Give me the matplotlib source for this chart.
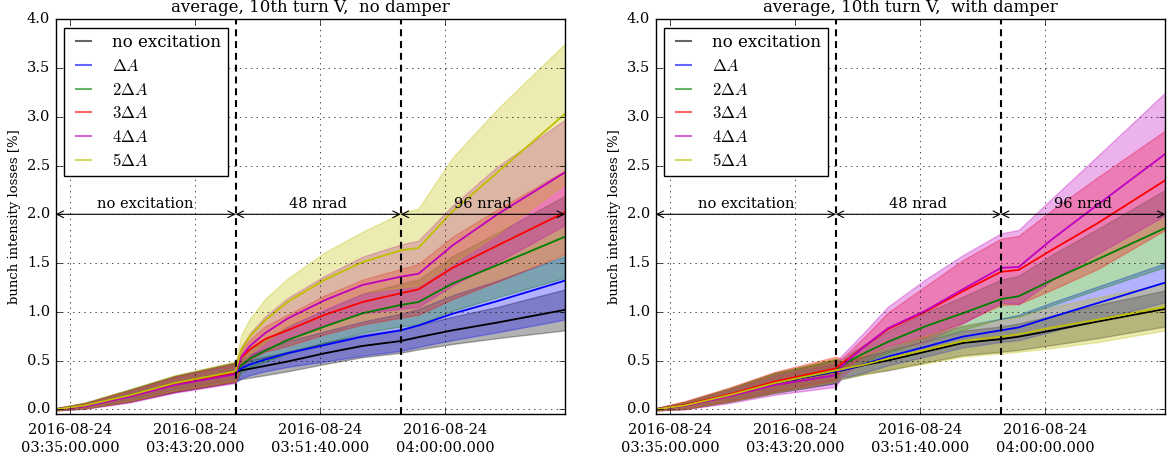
import datetime as dt
import matplotlib
matplotlib.use("Agg")
import matplotlib.pyplot as plt
import matplotlib.dates as mdates
from matplotlib.lines import Line2D

plt.style.use("classic")
plt.rcParams.update({
    "font.family": "serif",
    "font.serif": ["DejaVu Serif"],
    "mathtext.fontset": "cm",
    "figure.facecolor": "white",
    "savefig.facecolor": "white",
    "axes.formatter.useoffset": False,
})

# ---------------------------------------------------------------- data
DAY = "2016-08-24"
times = ["03:34:03", "03:36:00", "03:39:00", "03:42:00", "03:46:03", "03:46:25",
         "03:47:00", "03:48:00", "03:49:30", "03:52:00", "03:54:30", "03:57:03",
         "03:58:14", "04:00:30", "04:03:30", "04:08:00"]
t_start, t_end = "03:34:03", "04:08:00"
t_48nrad, t_96nrad = "03:46:03", "03:57:03"
tick_times = ["03:35:00", "03:43:20", "03:51:40", "04:00:00"]
y_ticks = [0.0, 0.5, 1.0, 1.5, 2.0, 2.5, 3.0, 3.5, 4.0]

labels = ["no excitation", r"$\Delta A$", r"$2\Delta A$", r"$3\Delta A$",
          r"$4\Delta A$", r"$5\Delta A$"]
colors = ["k", "b", "g", "r", "m", "y"]
titles = ["average, 10th turn V,  no damper", "average, 10th turn V,  with damper"]
phase_labels = ["no excitation", "48 nrad", "96 nrad"]

# no damper: mean losses and spread per excitation amplitude
nd_black      = [0.00, 0.035, 0.14, 0.26, 0.38, 0.40, 0.415, 0.445, 0.49, 0.575, 0.65, 0.70, 0.74, 0.81, 0.89, 1.02]
nd_black_lo   = [-0.01, 0.01, 0.08, 0.18, 0.29, 0.31, 0.325, 0.35, 0.39, 0.465, 0.535, 0.58, 0.615, 0.67, 0.73, 0.81]
nd_black_hi   = [0.01, 0.065, 0.20, 0.34, 0.47, 0.49, 0.505, 0.54, 0.59, 0.685, 0.765, 0.82, 0.865, 0.95, 1.05, 1.23]
nd_blue       = [0.00, 0.035, 0.14, 0.26, 0.38, 0.42, 0.46, 0.51, 0.575, 0.66, 0.745, 0.81, 0.86, 0.98, 1.11, 1.32]
nd_blue_lo    = [-0.01, 0.01, 0.08, 0.18, 0.28, 0.32, 0.35, 0.39, 0.435, 0.49, 0.55, 0.60, 0.64, 0.71, 0.79, 0.92]
nd_blue_hi    = [0.01, 0.065, 0.20, 0.34, 0.48, 0.51, 0.56, 0.62, 0.70, 0.80, 0.90, 0.98, 1.03, 1.17, 1.32, 1.57]
nd_green      = [0.00, 0.035, 0.145, 0.265, 0.385, 0.45, 0.52, 0.60, 0.71, 0.85, 0.985, 1.07, 1.10, 1.29, 1.48, 1.77]
nd_green_lo   = [-0.01, 0.01, 0.085, 0.185, 0.285, 0.38, 0.43, 0.49, 0.57, 0.68, 0.785, 0.85, 0.87, 1.01, 1.15, 1.35]
nd_green_hi   = [0.01, 0.065, 0.205, 0.345, 0.485, 0.52, 0.61, 0.71, 0.85, 1.02, 1.185, 1.29, 1.33, 1.57, 1.81, 2.19]
nd_red        = [0.00, 0.035, 0.14, 0.26, 0.38, 0.53, 0.615, 0.72, 0.81, 0.97, 1.10, 1.19, 1.23, 1.45, 1.68, 2.02]
nd_red_lo     = [-0.01, 0.01, 0.08, 0.18, 0.28, 0.45, 0.515, 0.59, 0.65, 0.77, 0.87, 0.94, 0.97, 1.13, 1.31, 1.59]
nd_red_hi     = [0.01, 0.065, 0.20, 0.34, 0.48, 0.61, 0.715, 0.85, 0.97, 1.17, 1.33, 1.44, 1.49, 1.77, 2.05, 2.45]
nd_magenta    = [0.00, 0.03, 0.13, 0.25, 0.36, 0.54, 0.65, 0.78, 0.93, 1.12, 1.275, 1.36, 1.39, 1.68, 2.00, 2.43]
nd_magenta_lo = [-0.01, 0.005, 0.07, 0.17, 0.27, 0.44, 0.52, 0.61, 0.72, 0.87, 0.985, 1.03, 1.05, 1.27, 1.51, 1.89]
nd_magenta_hi = [0.01, 0.06, 0.19, 0.33, 0.46, 0.64, 0.78, 0.95, 1.14, 1.37, 1.565, 1.69, 1.73, 2.09, 2.49, 2.97]
nd_yellow     = [0.00, 0.04, 0.145, 0.27, 0.39, 0.61, 0.75, 0.91, 1.10, 1.33, 1.51, 1.63, 1.655, 2.03, 2.43, 3.03]
nd_yellow_lo  = [-0.01, 0.01, 0.085, 0.19, 0.29, 0.46, 0.57, 0.69, 0.86, 1.05, 1.20, 1.25, 1.27, 1.50, 1.80, 2.31]
nd_yellow_hi  = [0.01, 0.07, 0.205, 0.35, 0.49, 0.76, 0.93, 1.13, 1.34, 1.61, 1.82, 2.01, 2.06, 2.58, 3.08, 3.75]

# with damper
wd_black      = [0.00, 0.04, 0.147, 0.27, 0.39, 0.40, 0.42, 0.455, 0.50, 0.59, 0.68, 0.72, 0.745, 0.81, 0.90, 1.03]
wd_black_lo   = [-0.01, 0.005, 0.08, 0.17, 0.27, 0.31, 0.33, 0.365, 0.40, 0.48, 0.555, 0.59, 0.61, 0.66, 0.73, 0.85]
wd_black_hi   = [0.01, 0.075, 0.21, 0.37, 0.51, 0.49, 0.51, 0.545, 0.60, 0.70, 0.805, 0.85, 0.88, 0.96, 1.07, 1.22]
wd_blue       = [0.00, 0.04, 0.147, 0.27, 0.39, 0.40, 0.42, 0.465, 0.54, 0.64, 0.745, 0.81, 0.84, 0.95, 1.09, 1.30]
wd_blue_lo    = [-0.01, 0.005, 0.08, 0.17, 0.27, 0.33, 0.34, 0.38, 0.45, 0.54, 0.635, 0.69, 0.71, 0.80, 0.92, 1.10]
wd_blue_hi    = [0.01, 0.075, 0.21, 0.37, 0.51, 0.47, 0.50, 0.55, 0.63, 0.74, 0.855, 0.93, 0.97, 1.10, 1.26, 1.50]
wd_green      = [0.00, 0.04, 0.15, 0.275, 0.40, 0.44, 0.50, 0.58, 0.69, 0.85, 0.985, 1.13, 1.16, 1.33, 1.54, 1.86]
wd_green_lo   = [-0.01, 0.005, 0.08, 0.175, 0.28, 0.38, 0.43, 0.49, 0.58, 0.71, 0.815, 0.93, 0.95, 1.07, 1.23, 1.46]
wd_green_hi   = [0.01, 0.075, 0.22, 0.375, 0.52, 0.50, 0.57, 0.67, 0.80, 0.99, 1.155, 1.33, 1.37, 1.59, 1.85, 2.25]
wd_red        = [0.00, 0.045, 0.155, 0.285, 0.42, 0.47, 0.53, 0.65, 0.82, 1.00, 1.21, 1.41, 1.43, 1.64, 1.91, 2.35]
wd_red_lo     = [-0.01, 0.005, 0.085, 0.185, 0.30, 0.42, 0.46, 0.55, 0.65, 0.74, 0.89, 1.07, 1.08, 1.23, 1.44, 1.84]
wd_red_hi     = [0.01, 0.085, 0.225, 0.385, 0.54, 0.52, 0.60, 0.75, 0.99, 1.26, 1.53, 1.75, 1.78, 2.05, 2.38, 2.86]
wd_magenta    = [0.00, 0.035, 0.135, 0.25, 0.35, 0.44, 0.52, 0.65, 0.83, 1.01, 1.23, 1.45, 1.46, 1.75, 2.10, 2.62]
wd_magenta_lo = [-0.01, 0.0, 0.065, 0.15, 0.23, 0.33, 0.40, 0.50, 0.61, 0.69, 0.88, 1.095, 1.08, 1.33, 1.60, 1.99]
wd_magenta_hi = [0.01, 0.07, 0.205, 0.35, 0.47, 0.55, 0.64, 0.80, 1.05, 1.33, 1.58, 1.805, 1.84, 2.17, 2.60, 3.25]
wd_yellow     = [0.00, 0.04, 0.147, 0.27, 0.40, 0.41, 0.43, 0.46, 0.52, 0.61, 0.70, 0.745, 0.77, 0.84, 0.92, 1.05]
wd_yellow_lo  = [-0.01, 0.005, 0.08, 0.17, 0.28, 0.32, 0.335, 0.36, 0.41, 0.47, 0.54, 0.575, 0.59, 0.63, 0.69, 0.81]
wd_yellow_hi  = [0.01, 0.075, 0.21, 0.37, 0.52, 0.50, 0.525, 0.56, 0.63, 0.75, 0.86, 0.915, 0.95, 1.05, 1.15, 1.29]

# ---------------------------------------------------------------- helpers
def to_dt(hms):
    return dt.datetime.strptime(f"{DAY} {hms}", "%Y-%m-%d %H:%M:%S")

t = [to_dt(s) for s in times]

panels = [
    [(nd_black, nd_black_lo, nd_black_hi), (nd_blue, nd_blue_lo, nd_blue_hi),
     (nd_green, nd_green_lo, nd_green_hi), (nd_red, nd_red_lo, nd_red_hi),
     (nd_magenta, nd_magenta_lo, nd_magenta_hi), (nd_yellow, nd_yellow_lo, nd_yellow_hi)],
    [(wd_black, wd_black_lo, wd_black_hi), (wd_blue, wd_blue_lo, wd_blue_hi),
     (wd_green, wd_green_lo, wd_green_hi), (wd_red, wd_red_lo, wd_red_hi),
     (wd_magenta, wd_magenta_lo, wd_magenta_hi), (wd_yellow, wd_yellow_lo, wd_yellow_hi)],
]

# ---------------------------------------------------------------- figure
fig = plt.figure(figsize=(11.69, 4.54), dpi=100)
axes = [fig.add_axes([0.0476, 0.0877, 0.4357, 0.8698]),
        fig.add_axes([0.5609, 0.0877, 0.4360, 0.8698])]

x0, x1 = mdates.date2num(to_dt(t_start)), mdates.date2num(to_dt(t_end))
xa, xb = mdates.date2num(to_dt(t_48nrad)), mdates.date2num(to_dt(t_96nrad))

for ax, series, title in zip(axes, panels, titles):
    for color, (mid, lo, hi) in zip(colors, series):
        ax.fill_between(t, lo, hi, color=color, alpha=0.3, lw=1)
        ax.plot(t, mid, color=color, lw=1.3)

    for xv in (xa, xb):
        ax.axvline(xv, color="k", ls=(0, (5, 3.5)), lw=1.5)

    for (xl, xr), txt in zip([(x0, xa), (xa, xb), (xb, x1)], phase_labels):
        ax.annotate("", xy=(xl, 2.0), xytext=(xr, 2.0),
                    arrowprops=dict(arrowstyle="<->", color="k", lw=0.8,
                                    shrinkA=0, shrinkB=0))
        ax.text((xl + xr) / 2, 2.035, txt, ha="center", va="bottom", fontsize=10.5)

    ax.set_xlim(x0, x1)
    ax.set_ylim(-0.05, 4.0)
    ax.set_yticks(y_ticks)
    ax.yaxis.set_major_formatter(plt.FormatStrFormatter("%.1f"))
    ax.xaxis.set_major_locator(plt.FixedLocator(
        [mdates.date2num(to_dt(s)) for s in tick_times]))
    ax.xaxis.set_major_formatter(mdates.DateFormatter("%Y-%m-%d\n%H:%M:%S.000"))
    ax.tick_params(labelsize=10.5)
    ax.tick_params(axis="x", pad=6)
    for lab in ax.get_xticklabels():
        lab.set_linespacing(1.45)
    ax.grid(True, color="k", ls=":", lw=0.5)
    ax.set_ylabel("bunch intensity losses [%]", fontsize=9.5, labelpad=4)
    ax.set_title(title, fontsize=12, y=1.0)

    handles = [Line2D([], [], color=c, lw=1.5, alpha=0.6) for c in colors]
    leg = ax.legend(handles, labels, loc="upper left", fontsize=12,
                    handlelength=1.5, handletextpad=1.0, borderaxespad=0.5,
                    labelspacing=0.4, fancybox=False)
    leg.get_frame().set_edgecolor("k")

fig.savefig("out.png", dpi=100)
